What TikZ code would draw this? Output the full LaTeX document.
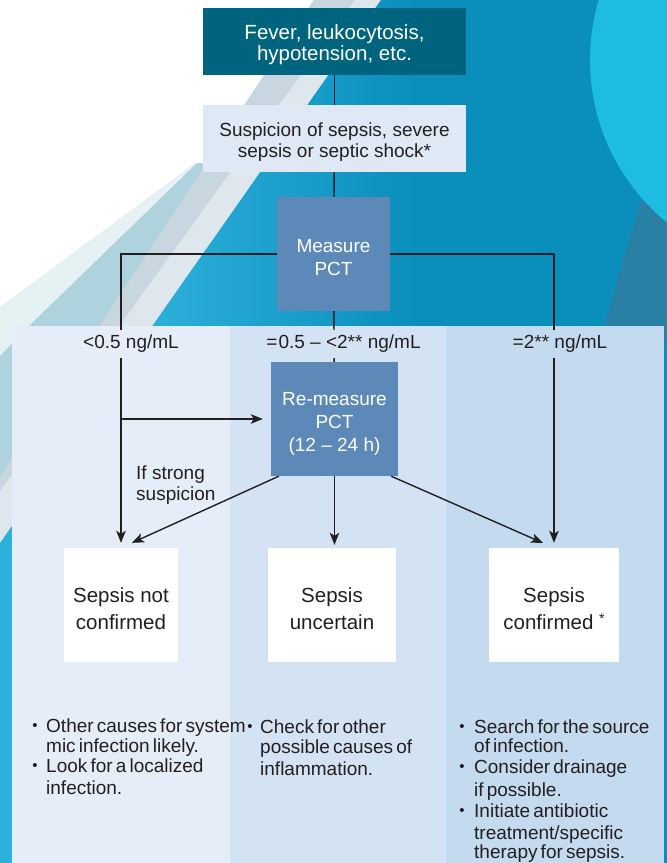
\documentclass[tikz,border=0pt]{standalone}
\usepackage{fontspec}
\setmainfont{Liberation Sans}
\newfontfamily\tightsp[WordSpace=0.6]{Liberation Sans}
\usetikzlibrary{arrows.meta}
\definecolor{topbox}{HTML}{00647E}
\definecolor{suspbox}{HTML}{DFE9F6}
\definecolor{pctbox}{HTML}{5D89B9}
\definecolor{colA}{HTML}{E5EDF8}
\definecolor{colB}{HTML}{D4E3F3}
\definecolor{colC}{HTML}{C4DAEE}
\definecolor{ink}{HTML}{231F20}
\definecolor{paleC}{HTML}{E6F1F4}
\definecolor{tealC}{HTML}{AED3DF}
\definecolor{greyC}{HTML}{C8D6E0}
\definecolor{whiteC}{HTML}{DEE6EE}
\definecolor{blueL}{HTML}{2DB0DA}
\definecolor{blueM}{HTML}{0A8FBD}
\definecolor{darkW}{HTML}{2A7FA5}
\definecolor{circC}{HTML}{1EBCE1}
\pgfdeclarehorizontalshading{bluesh}{100bp}{color(0bp)=(blueL); color(36bp)=(blueL); color(56bp)=(blueM); color(100bp)=(blueM)}
\newcommand\upA{\rule{0pt}{20pt}}
\newcommand\upB{\rule{0pt}{21.5pt}}
\newcommand\upC{\rule{0pt}{22pt}}
\begin{document}
\begin{tikzpicture}[x=1pt,y=-1pt,
  box/.style={draw=none, inner sep=0pt, align=center},
  conn/.style={draw=ink, line width=1.4pt},
  arr/.style={conn, -{Stealth[length=12pt,width=9.5pt,inset=3pt]}},
  lab/.style={text=ink, font=\fontsize{19}{21}\selectfont, inner xsep=2pt, inner ysep=5pt},
  bt/.style={text=ink, font=\tightsp\fontsize{19}{21}\selectfont, anchor=base west, inner sep=0pt},
  bul/.style={text=ink, font=\fontsize{15}{15}\selectfont, anchor=base, inner sep=0pt},
]
\useasboundingbox (0,0) rectangle (667,863);
% background
\begin{scope}
\clip (0,0) rectangle (667,863);
\fill[white] (0,0) rectangle (667,863);
\fill[paleC] (195,163) -- (0,307) -- (0,863) -- (667,863) -- (667,0) -- (314,0) -- (206,163) -- cycle;
\fill[tealC] (197,163) -- (30,325) -- (0,356) -- (0,863) -- (667,863) -- (667,0) -- (314,0) -- (206,163) -- cycle;
\fill[greyC] (314,0) -- (0,477) -- (0,863) -- (667,863) -- (667,0) -- cycle;
\fill[whiteC] (355,0) -- (0,491) -- (0,863) -- (667,863) -- (667,0) -- cycle;
\shade[shading=bluesh] (381,0) -- (0,543) -- (0,863) -- (667,863) -- (667,0) -- cycle;
\fill[darkW] (671,100) -- (600,340) -- (667,340) -- cycle;
\fill[circC] (800,60) circle[radius=210pt];
\end{scope}
% columns
\fill[colA] (12,326) rectangle (230,863);
\fill[colB] (230,326) rectangle (446,863);
\fill[colC] (446,326) rectangle (664,863);
% boxes
\node[box, fill=topbox, text=white, minimum width=263pt, minimum height=67pt, font=\fontsize{20.5}{21}\selectfont] (top) at (334.5,41.5) {\upB Fever, leukocytosis,\\hypotension, etc.};
\node[box, fill=suspbox, text=ink, minimum width=263pt, minimum height=67pt, font=\fontsize{19}{21}\selectfont] (susp) at (334.5,138.5) {\upA Suspicion of sepsis, severe\\sepsis or septic shock*};
\node[box, fill=pctbox, text=white, minimum width=113pt, minimum height=114pt, font=\fontsize{19}{23}\selectfont] (mp) at (333.5,254) {\upA Measure\\PCT};
\node[box, fill=pctbox, text=white, minimum width=127pt, minimum height=114pt, font=\fontsize{19}{23}\selectfont] (rm) at (334.5,419) {\upC Re-measure\\PCT\\(12 – 24 h)};
\node[box, fill=white, text=ink, minimum width=114pt, minimum height=114pt, font=\fontsize{20.5}{27}\selectfont] (r1) at (121,605) {\upB Sepsis not\\confirmed};
\node[box, fill=white, text=ink, minimum width=128pt, minimum height=114pt, font=\fontsize{20.5}{27}\selectfont] (r2) at (332,605) {\upB Sepsis\\uncertain};
\node[box, fill=white, text=ink, minimum width=130pt, minimum height=114pt, font=\fontsize{20.5}{27}\selectfont] (r3) at (554,605) {\upB Sepsis\\confirmed \raisebox{6pt}{\fontsize{14}{14}\selectfont *}};
% connectors
\draw[conn] (top) -- (susp);
\draw[conn] (susp) -- (mp);
\draw[conn] (mp) -- (rm);
\draw[arr, shorten >=5pt] (mp.west) -| (r1.north);
\draw[arr, shorten >=5pt] (mp.east) -| (r3.north);
\coordinate (hl) at (r1.north |- rm.west);
\draw[arr, shorten >=8pt] (hl) -- (rm.west);
\draw[arr, shorten >=12pt] ([xshift=8pt]rm.south west) -- (r1.north);
\draw[arr, shorten >=12pt] ([xshift=-7pt]rm.south east) -- (r3.north);
\draw[arr, shorten >=3pt] (rm.south) -- (rm.south |- r2.north);
% labels
\node[lab, fill=colA] (l1) at (131,344) {<0.5 ng/mL};
\node[lab, fill=colB] (l2) at (343.5,344) {=\kern1pt0.5 – <2** ng/mL};
\node[lab, fill=colC] (l3) at (560,344) {=2** ng/mL};
\node[anchor=west, align=left, text=ink, font=\fontsize{19}{20.5}\selectfont, inner sep=0pt] (ss) at (136,485) {If strong\\suspicion};
% left column text
\node[bul] (ab1) at (35,732) {\raisebox{2pt}{•}};
\node[bt] (a1) at (46,732) {Other causes for system};
\node[bt] (a2) at (46,752) {mic infection likely.};
\node[bul] (ab2) at (35,772) {\raisebox{2pt}{•}};
\node[bt] (a3) at (46,772) {Look for a localized};
\node[bt] (a4) at (46,794) {infection.};
% middle column text
\node[bul] (bb1) at (250,733) {\raisebox{2pt}{•}};
\node[bt] (b1) at (260,733) {Check for other};
\node[bt] (b2) at (260,753) {possible causes of};
\node[bt] (b3) at (260,775) {inflammation.};
% right column text
\node[bul] (cb1) at (462,733) {\raisebox{2pt}{•}};
\node[bt] (c1) at (474,733) {Search for the source};
\node[bt] (c2) at (474,752) {of infection.};
\node[bul] (cb2) at (462,773) {\raisebox{2pt}{•}};
\node[bt] (c3) at (474,773) {Consider drainage};
\node[bt] (c4) at (474,796) {if possible.};
\node[bul] (cb3) at (462,817) {\raisebox{2pt}{•}};
\node[bt] (c5) at (474,817) {Initiate antibiotic};
\node[bt] (c6) at (474,839) {treatment/specific};
\node[bt] (c7) at (474,858) {therapy for sepsis.};
\end{tikzpicture}
\end{document}
